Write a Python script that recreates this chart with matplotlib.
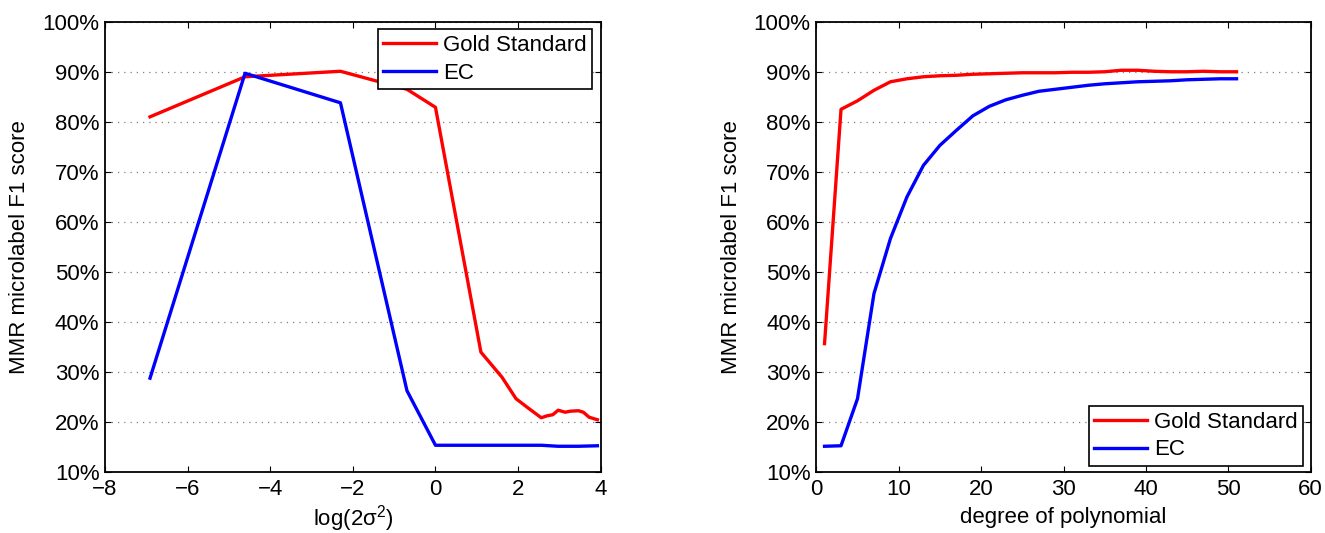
import matplotlib
matplotlib.use("Agg")
import matplotlib.pyplot as plt
from matplotlib.ticker import FuncFormatter, MultipleLocator

plt.rcParams['font.family'] = ['Liberation Sans', 'DejaVu Sans']
plt.rcParams['mathtext.fontset'] = 'custom'
plt.rcParams['mathtext.rm'] = 'Liberation Sans'
plt.rcParams['mathtext.it'] = 'Liberation Sans:italic'

# ---- Left panel data: F1 vs log(2 sigma^2) ----
left_x_gold = [-6.91, -4.61, -2.30, -0.69, 0.0, 1.10, 1.61, 1.95, 2.25, 2.56,
               2.71, 2.84, 2.97, 3.14, 3.26, 3.46, 3.58, 3.72, 3.92]
left_y_gold = [81.0, 89.0, 90.1, 86.5, 82.9, 34.0, 29.0, 24.7, 22.8, 20.9,
               21.3, 21.5, 22.4, 22.0, 22.2, 22.3, 22.0, 21.0, 20.5]
left_x_ec = [-6.91, -4.61, -2.30, -0.69, 0.0, 1.10, 1.95, 2.56, 2.97, 3.46, 3.92]
left_y_ec = [28.8, 89.7, 83.8, 26.3, 15.4, 15.4, 15.4, 15.4, 15.2, 15.2, 15.3]

# ---- Right panel data: F1 vs degree of polynomial ----
right_x = [1, 3, 5, 7, 9, 11, 13, 15, 17, 19, 21, 23, 25, 27, 29, 31, 33, 35,
           37, 39, 41, 43, 45, 47, 49, 51]
right_y_gold = [35.7, 82.5, 84.2, 86.3, 88.0, 88.6, 89.0, 89.2, 89.3, 89.5,
                89.6, 89.7, 89.8, 89.8, 89.8, 89.9, 89.9, 90.0, 90.3, 90.3,
                90.1, 90.0, 90.0, 90.1, 90.0, 90.0]
right_y_ec = [15.2, 15.3, 24.7, 45.7, 56.7, 65.0, 71.3, 75.3, 78.3, 81.2,
              83.1, 84.4, 85.3, 86.1, 86.5, 86.9, 87.3, 87.6, 87.8, 88.0,
              88.1, 88.2, 88.4, 88.5, 88.6, 88.6]

series_labels = ["Gold Standard", "EC"]
ylabel_text = "MMR microlabel F1 score"
left_xlabel = "log(2σ$^{2}$)"
right_xlabel = "degree of polynomial"

FS = 16
RED = "#ff0000"
BLUE = "#0000ff"

fig = plt.figure(figsize=(13.25, 5.33), dpi=100)
W, H = 1325, 533
ax1 = fig.add_axes([105 / W, 1 - 472.3 / H, 495.7 / W, 450.6 / H])
ax2 = fig.add_axes([816.3 / W, 1 - 472.3 / H, 494.4 / W, 450.6 / H])

pct = FuncFormatter(lambda v, p: f"{int(round(v))}%")

def style(ax):
    ax.set_ylim(10, 100)
    ax.yaxis.set_major_locator(MultipleLocator(10))
    ax.yaxis.set_major_formatter(pct)
    ax.grid(axis='y', linestyle=(0, (1, 4)), color='#808080', linewidth=0.9)
    ax.tick_params(direction='in', length=4, width=0.8, top=True, right=True,
                   labelsize=FS, colors='black', pad=5)
    ax.tick_params(axis='y', pad=4)
    for s in ax.spines.values():
        s.set_linewidth(1.3)
        s.set_color('black')
    ax.set_ylabel(ylabel_text, fontsize=FS)

l1, = ax1.plot(left_x_gold, left_y_gold, color=RED, lw=2.4)
l2, = ax1.plot(left_x_ec, left_y_ec, color=BLUE, lw=2.4)
ax1.set_xlim(-8, 4)
ax1.xaxis.set_major_locator(MultipleLocator(2))
ax1.xaxis.set_major_formatter(FuncFormatter(lambda v, p: f"{int(round(v))}".replace('-', '\u2212')))
style(ax1)
ax1.yaxis.set_label_coords(-0.151, 0.5)
ax1.set_xlabel(left_xlabel, fontsize=FS, labelpad=2)
leg1 = ax1.legend([l1, l2], series_labels, loc='upper right',
                  bbox_to_anchor=(0.983, 0.983), borderaxespad=0, fontsize=FS,
                  fancybox=False, framealpha=1, edgecolor='black',
                  handlelength=2.4, handletextpad=0.3, labelspacing=0.3,
                  borderpad=0.25)
leg1.get_frame().set_linewidth(1.2)

r1, = ax2.plot(right_x, right_y_gold, color=RED, lw=2.4)
r2, = ax2.plot(right_x, right_y_ec, color=BLUE, lw=2.4)
ax2.set_xlim(0, 60)
ax2.xaxis.set_major_locator(MultipleLocator(10))
style(ax2)
ax2.yaxis.set_label_coords(-0.150, 0.5)
ax2.set_xlabel(right_xlabel, fontsize=FS, labelpad=5)
leg2 = ax2.legend([r1, r2], series_labels, loc='lower right',
                  bbox_to_anchor=(0.985, 0.014), borderaxespad=0, fontsize=FS,
                  fancybox=False, framealpha=1, edgecolor='black',
                  handlelength=2.4, handletextpad=0.3, labelspacing=0.3,
                  borderpad=0.25)
leg2.get_frame().set_linewidth(1.2)

fig.savefig("out.png", dpi=100)
